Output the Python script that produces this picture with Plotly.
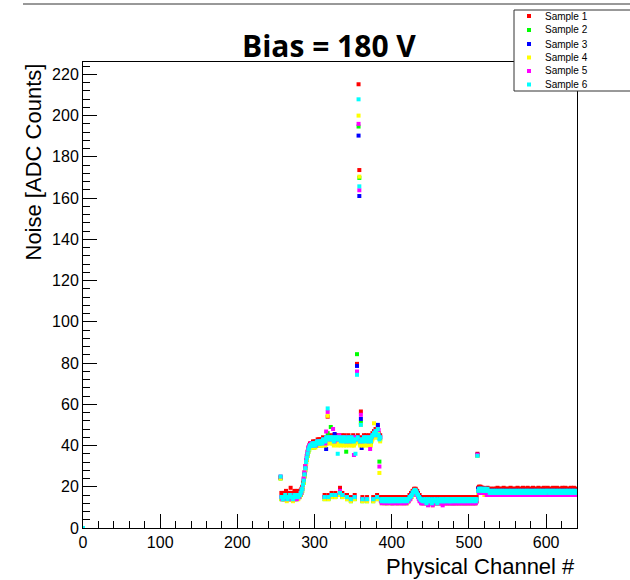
import plotly.graph_objects as go

# ---------------- data ----------------
channels = [0] + list(range(256, 640))
sample_names = ["Sample 1", "Sample 2", "Sample 3", "Sample 4", "Sample 5", "Sample 6"]
sample_colors = ["#ff0000", "#00ff00", "#0000ff", "#ffff00", "#ff00ff", "#00ffff"]

sample1 = [0,
    24.5,
    17, 17, 16, 17, 17, 17, 18, 17, 16, 17, 17, 17, 19.5, 17, 17, 16, 17, 18, 17, 17, 17, 18, 17, 17, 18, 18, 19,
    20, 22, 24, 27, 30, 33, 35, 37, 39, 40, 41, 41,
    41, 41, 42, 41, 42, 41, 42, 42, 43, 41,
    43, 42, 43, 42, 43, 44, 42, 16, 43, 44,
    44, 54, 16, 45, 43, 44, 17, 44, 45, 43,
    44, 17, 45, 43, 44, 45, 44, 19.5, 43, 45,
    17, 44, 43, 45, 43, 44, 16, 43, 45, 43,
    44, 15, 44, 43, 45, 43, 16, 43, 44, 79.6,
    45, 215.2, 173.6, 43, 56.5, 44, 15, 43, 45, 43,
    43, 45, 15, 44, 43, 45, 43, 43, 45, 46,
    15, 47, 45, 48, 46, 16, 49, 46, 44, 45,
    15, 15, 14, 15, 15, 15, 14, 15, 15, 15,
    15, 14, 15, 15, 15, 15, 14, 15, 15, 15,
    14, 15, 15, 15, 14, 15, 15, 15, 15, 14,
    15, 15, 15, 14, 15, 15, 15, 16,
    16, 17, 17, 18, 18, 19, 19, 19, 18, 18, 17, 16, 16, 15, 15, 14,
    15, 15, 14, 15, 15, 15, 14, 15, 15, 15,
    14, 15, 15, 15, 14, 15, 15, 15, 14, 15,
    15, 15, 14, 15, 15, 15, 15, 14, 15, 15,
    15, 14, 15, 15, 15, 14, 15, 15, 15, 15,
    14, 15, 15, 15, 15, 14, 15, 15, 15, 14,
    15, 15, 15, 14, 15, 15, 15, 14, 15, 15,
    15, 14, 15, 15, 15, 14, 15, 15, 15, 14, 15,
    36,
    19.5, 20, 20, 20, 19.5, 19.5, 19.5, 19, 19, 19,
    19, 19, 19.5, 19, 19, 18.5, 19, 19, 18.5, 19,
    19, 18.5, 19, 19, 19, 19.5, 19, 19, 19, 18.5,
    19, 19, 19, 19.5, 19, 19, 18.5, 19, 19, 19,
    19, 19, 19.5, 19, 19, 18.5, 19, 19, 19, 19,
    19, 19.5, 19, 19, 18.5, 19, 19, 19, 19.5, 19,
    19, 19, 18.5, 19, 19.5, 19, 19, 19, 19, 18.5,
    19, 19.5, 19, 19, 19, 18.5, 19, 19, 19.5, 19,
    19, 19, 19, 18.5, 19, 19.5, 19, 19, 19, 19,
    19.5, 19, 19, 19, 18.5, 19, 19, 19.5, 19, 19,
    19, 19, 19.5, 19, 19, 19, 18.5, 19, 19, 19.5,
    19, 19, 19, 19.5, 19, 19, 18.5, 19, 19, 19,
    19.5, 19, 19, 19, 19.5, 19, 19, 19,
]

sample2 = [0,
    24,
    14, 15, 14, 14, 15, 15, 14, 14, 15, 14, 15, 15, 14, 15, 14, 14, 15, 15, 14, 15, 15, 14, 15, 15, 16, 16, 17,
    18, 20, 22, 25, 28, 31, 33, 35, 37, 38, 39, 40,
    39, 40, 40, 39, 40, 41, 40, 40, 41, 40,
    41, 40, 41, 40, 41, 42, 41, 14, 41, 43,
    42, 46, 14, 43, 42, 49, 15, 42, 43, 41,
    42, 15, 43, 42, 41, 43, 42, 17, 41, 43,
    15, 42, 41, 43, 42, 37, 14, 42, 43, 41,
    42, 13, 43, 41, 42, 41, 14, 42, 43, 84.3,
    43, 194.7, 169.8, 41, 51, 42, 13, 41, 43, 42,
    41, 43, 13, 42, 41, 43, 42, 41, 43, 44,
    13, 45, 44, 46, 45, 14, 47, 44, 32.2, 43,
    13, 14, 13, 13, 14, 13, 13, 12, 13, 14,
    13, 13, 14, 13, 12, 13, 13, 14, 13, 13,
    14, 13, 12, 13, 13, 14, 13, 13, 14, 13,
    13, 14, 13, 12, 13, 13, 14, 14,
    15, 15, 16, 16, 17, 18, 18, 18, 17, 16, 16, 15, 14, 14, 13, 13,
    13, 12, 13, 14, 13, 12, 13, 13, 12, 13,
    13, 12, 12, 13, 13, 12, 13, 13, 12, 13,
    12, 13, 13, 12, 13, 13, 12, 13, 13, 12,
    13, 13, 12, 13, 13, 12, 13, 13, 12, 13,
    13, 12, 13, 13, 12, 13, 13, 12, 13, 13,
    12, 13, 13, 12, 13, 13, 12, 13, 13, 12,
    13, 13, 12, 13, 13, 12, 13, 13, 12, 13, 13,
    35,
    18, 18, 18, 18, 17, 18, 18, 17, 17, 18,
    17, 17, 18, 17, 17, 16, 17, 17, 16, 17,
    17, 16, 17, 17, 16, 17, 17, 16, 17, 17,
    16, 17, 17, 16, 17, 17, 16, 17, 16, 17,
    17, 16, 17, 17, 16, 17, 16, 17, 17, 16,
    17, 17, 16, 17, 17, 16, 17, 17, 16, 17,
    17, 16, 17, 17, 17, 16, 17, 17, 16, 17,
    16, 17, 17, 16, 17, 17, 17, 16, 17, 17,
    17, 16, 17, 17, 16, 17, 17, 16, 17, 17,
    17, 17, 16, 17, 17, 16, 17, 17, 17, 16,
    17, 17, 16, 17, 17, 17, 16, 17, 17, 16,
    17, 16, 17, 17, 17, 16, 17, 17, 17, 16,
    17, 17, 16, 17, 17, 17, 16, 17,
]

sample3 = [0,
    24.5,
    15, 14, 15, 15, 14, 15, 15, 14, 15, 15, 14, 15, 15, 14, 15, 15, 14, 15, 15, 14, 15, 15, 15, 16, 15, 16, 18,
    19, 21, 23, 26, 29, 32, 34, 36, 38, 39, 40, 40,
    40, 40, 41, 40, 41, 41, 40, 41, 42, 41,
    42, 41, 41, 42, 42, 42, 43, 15, 42, 38.3,
    43, 44, 15, 44, 43, 44, 16, 43, 44, 42,
    45.6, 16, 44, 43, 42, 44, 43, 18, 42, 44,
    16, 43, 42, 44, 43, 42, 15, 43, 44, 42,
    43, 14, 44, 42, 43, 42, 15, 43, 44, 78.6,
    44, 190.3, 161, 42, 52.9, 38.8, 14, 42, 44, 43,
    42, 44, 14, 43, 42, 44, 43, 42, 44, 45,
    14, 46, 45, 47, 46, 15, 50, 45, 44, 44,
    14, 13, 14, 13, 14, 13, 14, 13, 13, 14,
    13, 14, 13, 14, 13, 13, 14, 13, 14, 13,
    13, 14, 13, 14, 14, 13, 13, 14, 13, 14,
    13, 14, 13, 14, 14, 13, 14, 15,
    15, 16, 16, 17, 17, 18, 18, 18, 17, 17, 16, 15, 15, 14, 13, 13,
    14, 13, 13, 14, 13, 13, 14, 13, 14, 13,
    13, 14, 13, 12, 13, 14, 13, 13, 14, 13,
    14, 13, 13, 14, 13, 14, 13, 13, 14, 13,
    13, 14, 13, 14, 13, 13, 14, 13, 14, 13,
    13, 14, 13, 13, 14, 13, 14, 13, 13, 14,
    13, 13, 14, 13, 14, 13, 13, 14, 13, 14,
    14, 13, 13, 14, 13, 13, 14, 13, 14, 13, 13,
    35.5,
    19, 19, 18, 19, 18, 19, 18, 19, 18, 18,
    18, 19, 18, 17, 18, 18, 17, 18, 18, 17,
    18, 18, 17, 18, 18, 17, 18, 18, 17, 18,
    18, 17, 18, 18, 17, 18, 18, 17, 18, 18,
    17, 18, 18, 17, 18, 17, 18, 18, 17, 18,
    18, 17, 18, 18, 17, 18, 17, 18, 18, 17,
    18, 18, 17, 18, 17, 18, 18, 17, 18, 18,
    18, 17, 18, 18, 17, 18, 17, 18, 18, 17,
    17, 18, 18, 17, 18, 18, 17, 18, 17, 18,
    18, 17, 18, 18, 17, 18, 18, 17, 18, 18,
    17, 18, 18, 17, 18, 17, 18, 18, 17, 18,
    18, 18, 17, 18, 17, 18, 18, 17, 18, 18,
    18, 17, 18, 18, 17, 18, 18, 17,
]

sample4 = [0,
    24,
    14, 14, 15, 14, 14, 15, 14, 13, 14, 15, 14, 14, 15, 14, 14, 13, 14, 15, 14, 14, 14, 15, 14, 15, 15, 16, 17,
    18, 20, 22, 25, 28, 31, 33, 35, 37, 38, 39, 39,
    39, 40, 39, 40, 40, 39, 40, 41, 40, 40,
    41, 40, 40, 41, 40, 41, 41, 14, 40, 42,
    41, 54.4, 14, 42, 41, 42, 15, 41, 42, 40,
    41, 15, 42, 41, 40, 42, 41, 16, 40, 42,
    15, 41, 40, 42, 41, 40, 14, 41, 42, 40,
    41, 13, 42, 40, 41, 40, 14, 41, 42, 75.2,
    42, 200, 170.4, 40, 50, 41, 13, 40, 42, 41,
    40, 42, 13, 41, 40, 42, 41, 40, 42, 43,
    13, 50.8, 44, 45, 44, 14, 46, 44, 26.7, 42,
    13, 12, 13, 13, 12, 13, 13, 12, 13, 13,
    12, 13, 13, 12, 13, 12, 13, 13, 12, 13,
    13, 12, 13, 13, 12, 13, 12, 13, 13, 12,
    13, 12, 13, 13, 12, 13, 13, 14,
    14, 15, 15, 16, 17, 17, 18, 17, 17, 16, 15, 15, 14, 13, 13, 12,
    12, 13, 12, 13, 12, 12, 13, 12, 13, 12,
    12, 13, 12, 11, 12, 13, 12, 12, 13, 12,
    13, 12, 12, 13, 12, 12, 13, 12, 12, 13,
    12, 12, 13, 12, 12, 13, 12, 12, 13, 12,
    12, 13, 12, 12, 13, 12, 12, 13, 12, 12,
    13, 12, 12, 13, 12, 12, 13, 12, 12, 13,
    12, 12, 13, 12, 12, 13, 12, 12, 13, 12, 13,
    35,
    17, 18, 17, 17, 18, 17, 17, 17, 16, 17,
    16, 17, 16, 17, 16, 16, 17, 16, 16, 17,
    16, 16, 17, 16, 16, 17, 16, 16, 17, 16,
    16, 17, 16, 16, 17, 16, 16, 17, 16, 16,
    17, 16, 16, 17, 16, 16, 17, 16, 16, 17,
    16, 16, 17, 16, 16, 17, 16, 16, 17, 16,
    16, 17, 16, 16, 17, 16, 16, 17, 16, 16,
    17, 16, 16, 17, 16, 16, 17, 16, 16, 17,
    16, 16, 17, 16, 16, 17, 16, 16, 17, 16,
    16, 17, 16, 16, 17, 16, 16, 17, 16, 16,
    17, 16, 16, 17, 16, 16, 17, 16, 16, 17,
    16, 16, 17, 16, 16, 17, 16, 16, 17, 16,
    16, 17, 16, 16, 17, 16, 16, 17,
]

sample5 = [0,
    25,
    15, 14, 15, 15, 15, 14, 15, 15, 15, 14, 15, 15, 16, 15, 14, 15, 15, 14, 15, 15, 14, 15, 15, 15, 16, 17, 17,
    19, 21, 24, 27, 30, 33, 35, 37, 39, 40, 40, 41,
    40, 40, 41, 40, 41, 41, 40, 41, 42, 41,
    41, 42, 42, 41, 42, 42, 43, 15, 41, 46.8,
    44, 56.3, 15, 43, 44, 43, 16, 44, 48, 43,
    42, 16, 43, 44, 43, 43, 45, 18, 43, 43,
    16, 44, 43, 43, 44, 42, 15, 44, 43, 43,
    42, 14, 43, 43, 44, 35.4, 15, 43, 44, 75.9,
    43, 196, 163.8, 43, 54.9, 42, 14, 43, 44, 44,
    43, 43, 14, 44, 42, 44, 38.3, 43, 44, 45,
    14, 46, 46, 47, 45, 15, 48, 47.5, 29.8, 44,
    13, 12, 13, 13, 13, 12, 13, 13, 12, 13,
    13, 13, 12, 13, 13, 12, 12, 13, 13, 12,
    13, 12, 13, 13, 12, 13, 13, 12, 12, 13,
    12, 13, 13, 12, 13, 13, 13, 14,
    14, 15, 16, 16, 17, 18, 18, 18, 17, 16, 15, 14, 13, 13, 12, 12,
    12, 13, 12, 13, 12, 12, 13, 11, 12, 13,
    12, 12, 13, 11, 12, 13, 12, 12, 13, 12,
    13, 12, 12, 13, 12, 12, 11, 12, 13, 12,
    12, 13, 12, 12, 13, 12, 12, 13, 12, 12,
    12, 12, 13, 12, 12, 13, 12, 12, 13, 12,
    13, 12, 12, 13, 12, 12, 13, 12, 12, 13,
    12, 13, 12, 12, 13, 12, 12, 13, 12, 12, 13,
    35.5,
    18, 17, 18, 18, 17, 17, 18, 17, 17, 17,
    17, 16, 17, 17, 16, 17, 17, 16, 17, 17,
    16, 17, 17, 16, 17, 17, 16, 17, 17, 16,
    17, 17, 16, 17, 17, 16, 17, 17, 16, 17,
    16, 17, 17, 16, 17, 17, 16, 17, 17, 16,
    17, 16, 17, 17, 16, 17, 17, 16, 17, 17,
    16, 17, 17, 16, 17, 17, 16, 17, 17, 16,
    17, 17, 16, 17, 17, 16, 17, 17, 16, 17,
    17, 16, 17, 17, 16, 17, 17, 16, 17, 17,
    16, 17, 17, 16, 17, 17, 16, 17, 17, 16,
    17, 17, 16, 17, 17, 16, 17, 17, 16, 17,
    17, 16, 17, 17, 16, 17, 17, 16, 17, 17,
    16, 17, 17, 16, 17, 17, 16, 17,
]

sample6 = [0,
    25,
    15, 15, 14, 15, 15, 16, 15, 15, 14, 15, 15, 16, 15, 15, 15, 14, 15, 16, 15, 15, 15, 16, 15, 16, 16, 17, 18,
    19, 21, 23, 26, 29, 32, 34, 36, 38, 39, 40, 40,
    40, 41, 40, 41, 41, 40, 41, 42, 41, 41,
    42, 41, 42, 42, 41, 43, 42, 15, 42, 44,
    43, 58, 15, 44, 43, 44, 16, 43, 44, 42,
    43, 16, 44, 43, 36, 44, 43, 17, 42, 44,
    16, 43, 42, 44, 43, 42, 15, 43, 44, 42,
    43, 14, 44, 42, 43, 42, 15, 36, 43, 74.3,
    44, 207.9, 165.7, 42, 50, 43, 14, 42, 44, 43,
    42, 44, 14, 43, 42, 44, 43, 42, 44, 45,
    14, 46, 45, 47, 46, 15, 48, 45, 43, 44,
    14, 13, 14, 14, 13, 14, 13, 14, 14, 13,
    14, 13, 13, 14, 14, 13, 14, 13, 14, 14,
    13, 14, 14, 13, 14, 13, 14, 14, 13, 14,
    14, 13, 14, 14, 13, 14, 14, 15,
    15, 15.5, 16, 17, 17.5, 18, 18.5, 18, 17.5, 16.5, 16, 15, 14.5, 14, 13.5, 13.5,
    13, 14, 13, 13, 14, 12, 13, 14, 13, 13,
    14, 13, 12, 13, 14, 13, 13, 14, 13, 12,
    13, 14, 13, 13, 14, 13, 14, 13, 13, 14,
    13, 14, 14, 13, 14, 13, 13, 14, 13, 14,
    14, 13, 14, 14, 13, 14, 14, 13, 14, 13,
    14, 14, 13, 14, 13, 14, 14, 13, 14, 14,
    13, 14, 14, 13, 14, 14, 13, 14, 14, 13, 14,
    35,
    18, 19, 19, 19, 19, 18, 19, 18, 18, 19,
    18, 18, 19, 18, 18, 17, 18, 18, 17, 18,
    18, 17, 18, 18, 17, 18, 18, 17, 18, 18,
    17, 18, 18, 17, 18, 18, 17, 18, 17, 18,
    18, 17, 18, 18, 17, 18, 17, 18, 18, 17,
    18, 18, 17, 18, 18, 17, 18, 18, 17, 18,
    18, 17, 18, 18, 18, 17, 18, 18, 17, 18,
    17, 18, 18, 17, 18, 18, 18, 17, 18, 18,
    18, 17, 18, 18, 17, 18, 18, 17, 18, 18,
    18, 18, 17, 18, 18, 17, 18, 18, 18, 17,
    18, 18, 17, 18, 18, 18, 17, 18, 18, 17,
    18, 17, 18, 18, 18, 17, 18, 18, 18, 17,
    18, 18, 17, 18, 18, 18, 17, 18,
]

samples = [sample1, sample2, sample3, sample4, sample5, sample6]
for s in samples:
    assert len(s) == len(channels), len(s)

x_tick_vals = [0, 100, 200, 300, 400, 500, 600]
y_tick_vals = [0, 20, 40, 60, 80, 100, 120, 140, 160, 180, 200, 220]

# ---------------- figure ----------------
W, H = 630, 580
L, R, T, B = 83, 53, 62, 52
PW, PH = W - L - R, H - T - B


def px(xp):
    return (xp - L) / PW


def py(yp):
    return (H - B - yp) / PH


fig = go.Figure()
for name, col, vals in zip(sample_names, sample_colors, samples):
    fig.add_trace(go.Scatter(
        x=channels, y=vals, mode="markers", name=name,
        marker=dict(symbol="square", size=4, color=col, line=dict(width=0)),
        showlegend=False, hoverinfo="x+y+name",
    ))

tick_font = dict(family="Liberation Sans, Arial, sans-serif", size=16, color="#000")
fig.update_xaxes(
    range=[0, 640], tickvals=x_tick_vals, ticks="inside", ticklen=14, tickwidth=1,
    tickcolor="#000", showline=True, linecolor="#000", linewidth=1, mirror=True,
    showgrid=False, zeroline=False, tickfont=tick_font,
    minor=dict(dtick=20, tick0=0, ticks="inside", ticklen=7, tickcolor="#000", showgrid=False),
)
fig.update_yaxes(
    range=[0, 226], tickvals=y_tick_vals, ticks="inside", ticklen=14, tickwidth=1,
    tickcolor="#000", showline=True, linecolor="#000", linewidth=1, mirror=True,
    showgrid=False, zeroline=False, tickfont=tick_font,
    minor=dict(dtick=4, tick0=0, ticks="inside", ticklen=7, tickcolor="#000", showgrid=False),
)

annotations = [
    dict(text="<b>Bias = 180 V</b>", x=px(329), y=py(45), xref="paper", yref="paper",
         xanchor="center", yanchor="middle", showarrow=False,
         font=dict(family="Liberation Sans Narrow, Open Sans, sans-serif", size=30, color="#000")),
    dict(text="Physical Channel #", x=1.0, y=py(566), xref="paper", yref="paper",
         xanchor="right", yanchor="middle", showarrow=False,
         font=dict(family="Liberation Sans, Arial, sans-serif", size=22, color="#000")),
    dict(text="Noise [ADC Counts]", x=px(33), y=1.0, xref="paper", yref="paper",
         xanchor="center", yanchor="top", textangle=-90, showarrow=False,
         font=dict(family="Liberation Sans, Arial, sans-serif", size=22, color="#000")),
]

shapes = [
    dict(type="line", xref="paper", yref="paper", x0=px(23), x1=px(640), y0=py(4), y1=py(4),
         line=dict(color="#333", width=1), layer="above"),
    dict(type="rect", xref="paper", yref="paper", x0=px(514), x1=px(660), y0=py(91), y1=py(10),
         line=dict(color="#333", width=1), fillcolor="white", layer="above"),
]

legend_rows = [16, 30, 44, 57.5, 71, 84.5]
for name, col, yr in zip(sample_names, sample_colors, legend_rows):
    shapes.append(dict(type="rect", xref="paper", yref="paper",
                       xsizemode="pixel", ysizemode="pixel",
                       xanchor=px(529), yanchor=py(yr), x0=-2, x1=2, y0=-2, y1=2,
                       fillcolor=col, line=dict(width=0), layer="above"))
    annotations.append(dict(text=name, x=px(543), y=py(yr), xref="paper", yref="paper",
                            xanchor="left", yanchor="middle", showarrow=False,
                            font=dict(family="Liberation Sans, Arial, sans-serif", size=10, color="#000")))

fig.update_layout(
    width=W, height=H, margin=dict(l=L, r=R, t=T, b=B, pad=0),
    paper_bgcolor="white", plot_bgcolor="white",
    annotations=annotations, shapes=shapes, showlegend=False,
)

fig.write_html("out.html", config={"displayModeBar": False},
               post_script="document.body.style.margin='0';document.body.style.overflow='hidden';")
